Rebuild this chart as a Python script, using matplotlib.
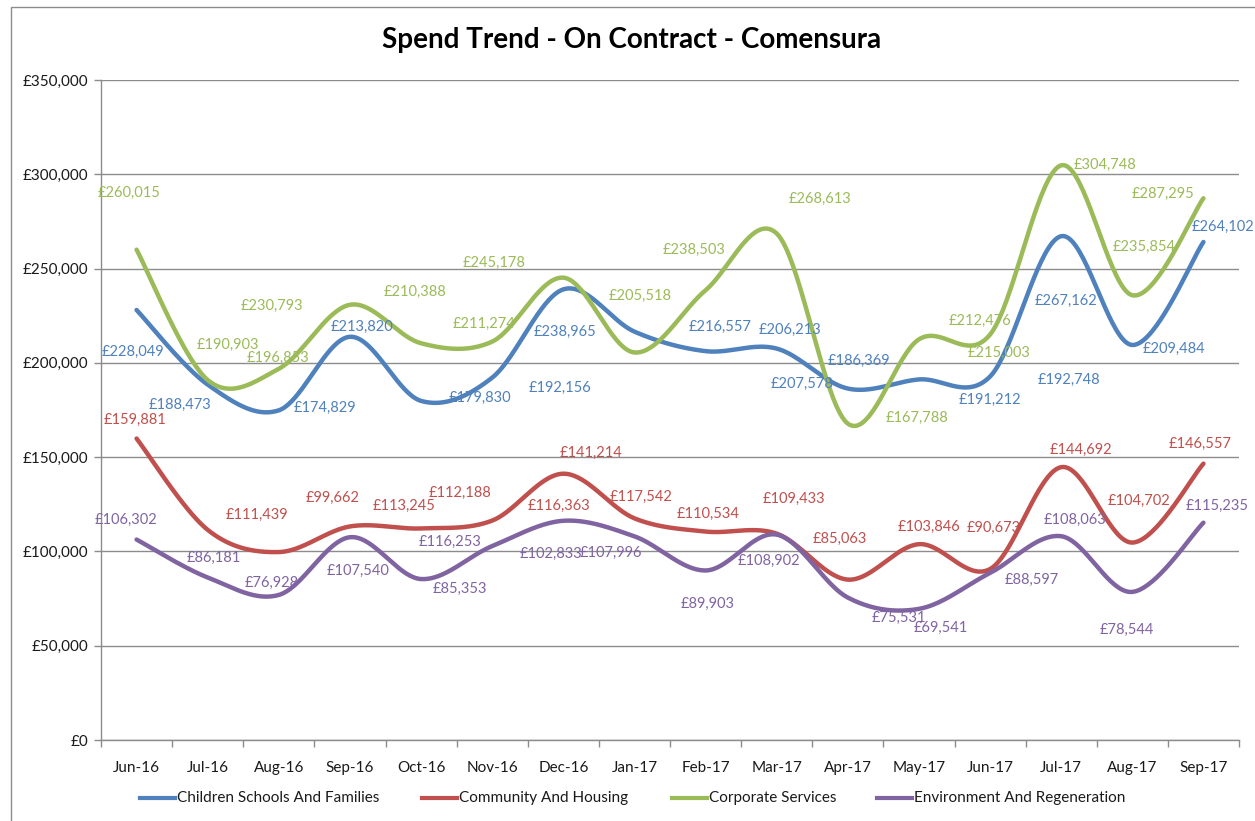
import numpy as np
import matplotlib
matplotlib.use('Agg')
import matplotlib.pyplot as plt
from matplotlib.lines import Line2D
from matplotlib.patches import Rectangle
from matplotlib.ticker import FuncFormatter, MultipleLocator

plt.rcParams['font.family'] = ['Lato', 'DejaVu Sans']

months = ['Jun-16', 'Jul-16', 'Aug-16', 'Sep-16', 'Oct-16', 'Nov-16', 'Dec-16', 'Jan-17',
          'Feb-17', 'Mar-17', 'Apr-17', 'May-17', 'Jun-17', 'Jul-17', 'Aug-17', 'Sep-17']

children = [228049, 188473, 174829, 213820, 179830, 192156, 238965, 216557,
            206213, 207578, 186369, 191212, 192748, 267162, 209484, 264102]
community = [159881, 111439, 99662, 113245, 112188, 116363, 141214, 117542,
             110534, 109433, 85063, 103846, 90673, 144692, 104702, 146557]
corporate = [260015, 190903, 196853, 230793, 210388, 211274, 245178, 205518,
             238503, 268613, 167788, 212476, 215003, 304748, 235854, 287295]
environment = [106302, 86181, 76928, 107540, 85353, 102833, 116253, 107996,
               89903, 108902, 75531, 69541, 88597, 108063, 78544, 115235]

series_names = ['Children Schools And Families', 'Community And Housing',
                'Corporate Services', 'Environment And Regeneration']
colors = ['#4F81BD', '#C0504D', '#9BBB59', '#8064A2']

# label offsets in screen pixels (dx right, dy down), as placed in the original
off_children = [(-4, 42), (-28, 20), (46, -2), (12, -10), (59, -3), (68, 10), (2, 43), (86, -5),
                (84, -21), (25, 35), (11, -28), (71, 20), (79, 3), (5, 65), (42, 4), (20, -15)]
off_community = [(-2, -19), (49, -15), (54, -54), (54, -21), (39, -36), (67, -15), (28, -21), (7, -21),
                 (3, -18), (17, -35), (-8, -41), (10, -17), (4, -41), (20, -17), (7, -42), (-3, -20)]
off_corporate = [(-7, -57), (20, -35), (-1, -11), (-78, 1), (-6, -51), (-8, -18), (-69, -15), (6, -57),
                 (-11, -40), (43, -35), (69, -6), (61, -18), (9, 18), (44, 0), (12, -48), (-40, -4)]
off_environment = [(-11, -20), (6, -20), (-7, -12), (8, 34), (39, 10), (59, 8), (-113, 21), (-24, 17),
                   (2, 33), (-8, 26), (51, 20), (22, 19), (42, 7), (14, -16), (-5, 38), (14, -17)]


def smooth(y, n=40):
    # Excel-style smoothed line: cubic Bezier with Catmull-Rom tangents
    y = np.asarray(y, dtype=float)
    x = np.arange(len(y), dtype=float)
    xs, ys = [], []
    for i in range(len(y) - 1):
        i0 = max(i - 1, 0)
        i3 = min(i + 2, len(y) - 1)
        p0 = np.array([x[i], y[i]])
        p3 = np.array([x[i + 1], y[i + 1]])
        p1 = p0 + (p3 - np.array([x[i0], y[i0]])) / 6
        p2 = p3 - (np.array([x[i3], y[i3]]) - p0) / 6
        t = np.linspace(0, 1, n)[:, None]
        b = (1 - t) ** 3 * p0 + 3 * (1 - t) ** 2 * t * p1 + 3 * (1 - t) * t ** 2 * p2 + t ** 3 * p3
        xs.extend(b[:, 0])
        ys.extend(b[:, 1])
    return np.array(xs), np.array(ys)


fig = plt.figure(figsize=(12.55, 8.21), dpi=100)
W, H = 1255, 821
ax = fig.add_axes([101 / W, 1 - 740 / H, (1239 - 101) / W, (740 - 80) / H])

all_series = [children, community, corporate, environment]
all_offsets = [off_children, off_community, off_corporate, off_environment]

for vals, col in zip(all_series, colors):
    sx, sy = smooth(vals)
    ax.plot(sx, sy, color=col, lw=3.2, solid_capstyle='round', zorder=3)

for vals, offs, col in zip(all_series, all_offsets, colors):
    for i, v in enumerate(vals):
        ax.annotate('£{:,}'.format(v), (i, v), xytext=(offs[i][0], -offs[i][1]),
                    textcoords='offset pixels', ha='center', va='center',
                    fontsize=10.5, color=col, zorder=4)

ax.set_xlim(-0.5, 15.5)
ax.set_ylim(0, 350000)
ax.yaxis.set_major_locator(MultipleLocator(50000))
ax.yaxis.set_major_formatter(FuncFormatter(lambda v, p: '£{:,.0f}'.format(v)))
ax.grid(axis='y', color='#8c8c8c', lw=1)
ax.set_axisbelow(True)

ax.set_xticks(np.arange(-0.5, 16, 1))
ax.set_xticklabels([])
ax.set_xticks(np.arange(16), minor=True)
ax.set_xticklabels(months, minor=True)
ax.tick_params(axis='x', which='major', length=5, color='#8c8c8c', width=1)
ax.tick_params(axis='x', which='minor', length=0, pad=15, labelsize=11, labelcolor='#1a1a1a')
ax.tick_params(axis='y', length=5, color='#8c8c8c', width=1, labelsize=11, pad=4, labelcolor='#1a1a1a')

for s in ['top', 'right']:
    ax.spines[s].set_visible(False)
for s in ['left', 'bottom']:
    ax.spines[s].set_color('#8c8c8c')
    ax.spines[s].set_linewidth(1)

fig.text(632 / W, 1 - 40 / H, 'Spend Trend - On Contract - Comensura',
         ha='center', va='center', fontsize=20, fontweight='bold')

# legend along the bottom
leg_x = [140, 422, 672, 877]
for lx, name, col in zip(leg_x, series_names, colors):
    fig.add_artist(Line2D([lx / W, (lx + 35) / W], [1 - 798 / H] * 2, color=col, lw=3))
    fig.text((lx + 37) / W, 1 - 798 / H, name, ha='left', va='center', fontsize=11, color='#1a1a1a')

fig.add_artist(Rectangle((11 / W, -0.1), 1.2, 1 - 7 / H + 0.1, transform=fig.transFigure,
                         fill=False, edgecolor='#8c8c8c', lw=1))

fig.savefig('out.png', dpi=100)
